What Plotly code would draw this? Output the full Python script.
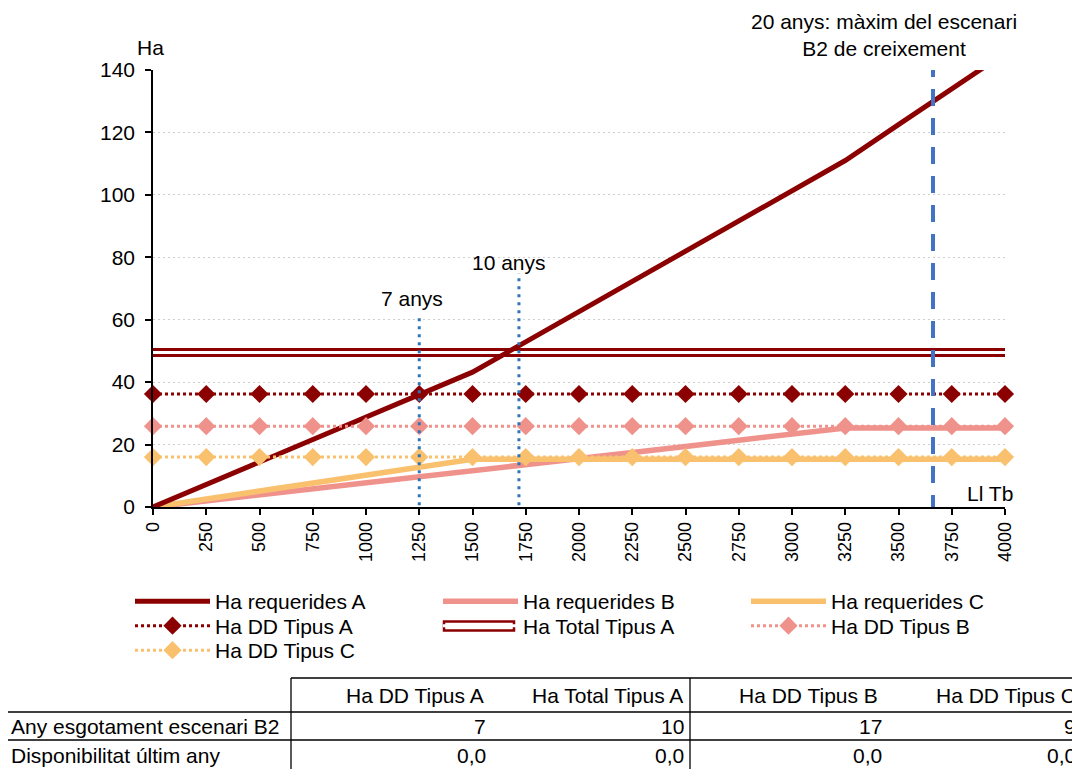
import plotly.graph_objects as go

# ---------------- data ----------------
x_vals = [0, 250, 500, 750, 1000, 1250, 1500, 1750, 2000, 2250, 2500, 2750, 3000, 3250, 3500, 3750, 4000]
x_ticks = [0, 250, 500, 750, 1000, 1250, 1500, 1750, 2000, 2250, 2500, 2750, 3000, 3250, 3500, 3750, 4000]
y_ticks = [0, 20, 40, 60, 80, 100, 120, 140]

req_A = [0, 7.2, 14.4, 21.6, 28.8, 36.0, 43.2, 52.9, 62.6, 72.3, 82.0, 91.7, 101.4, 111.0, 122.5, 134.0, 145.4]
req_B = [0, 1.9, 3.9, 5.8, 7.8, 9.7, 11.7, 13.6, 15.5, 17.5, 19.4, 21.4, 23.3, 25.3, 25.3, 25.3, 25.3]
req_C = [0, 2.6, 5.1, 7.7, 10.2, 12.8, 15.3, 15.3, 15.3, 15.3, 15.3, 15.3, 15.3, 15.3, 15.3, 15.3, 15.3]
dd_A = [36.2, 36.2, 36.2, 36.2, 36.2, 36.2, 36.2, 36.2, 36.2, 36.2, 36.2, 36.2, 36.2, 36.2, 36.2, 36.2, 36.2]
dd_B = [25.9, 25.9, 25.9, 25.9, 25.9, 25.9, 25.9, 25.9, 25.9, 25.9, 25.9, 25.9, 25.9, 25.9, 25.9, 25.9, 25.9]
dd_C = [16.0, 16.0, 16.0, 16.0, 16.0, 16.0, 16.0, 16.0, 16.0, 16.0, 16.0, 16.0, 16.0, 16.0, 16.0, 16.0, 16.0]
total_A = [49.5, 49.5, 49.5, 49.5, 49.5, 49.5, 49.5, 49.5, 49.5, 49.5, 49.5, 49.5, 49.5, 49.5, 49.5, 49.5, 49.5]

vline_x = [1250, 1718, 3662]
vline_bottom = [-2, -2, -1.6]
vline_top = [62, 75, 142.5]
vline_labels = ["7 anys", "10 anys", "20 anys: màxim del escenari<br>B2 de creixement"]

table_cols = ["Ha DD Tipus A", "Ha Total Tipus A", "Ha DD Tipus B", "Ha DD Tipus C"]
table_rows = ["Any esgotament escenari B2", "Disponibilitat últim any"]
table_any = ["7", "10", "17", "9"]
table_disp = ["0,0", "0,0", "0,0", "0,0"]

# ---------------- style ----------------
DARK = "#8B0000"
PINK = "#F0928C"
ORANGE = "#F9C16E"
BLUE_DOT = "#2E75B6"
BLUE_DASH = "#4472C4"
FONT = "Liberation Sans, Arial, sans-serif"
FS = 21

OFF = 8  # page body margin
L, T, W, H = 153, 70, 852, 437   # plot area in screen pixels
FIG_W, FIG_H = 1080 - OFF, 769 - OFF


def xp(px):
    return (px - L) / W


def yp(py):
    return (T + H - py) / H


def txt(x, y, s, xa="center", ya="middle", align="center"):
    fig.add_annotation(x=xp(x), y=yp(y), xref="paper", yref="paper", text=s,
                       xanchor=xa, yanchor=ya, align=align, showarrow=False,
                       font=dict(size=FS, color="black", family=FONT))


fig = go.Figure()

# Ha Total Tipus A (double line): dark outer line + white inner line
fig.add_trace(go.Scatter(x=x_vals, y=total_A, mode="lines", showlegend=False,
                         line=dict(color=DARK, width=9)))
fig.add_trace(go.Scatter(x=x_vals, y=total_A, mode="lines", name="Ha Total Tipus A",
                         line=dict(color="white", width=3), legend="legend2", legendrank=2))

fig.add_trace(go.Scatter(x=x_vals, y=req_B, mode="lines", name="Ha requerides B",
                         line=dict(color=PINK, width=5.5), legend="legend", legendrank=2))
fig.add_trace(go.Scatter(x=x_vals, y=req_C, mode="lines", name="Ha requerides C",
                         line=dict(color=ORANGE, width=5.5), legend="legend", legendrank=3))
fig.add_trace(go.Scatter(x=x_vals, y=req_A, mode="lines", name="Ha requerides A",
                         line=dict(color=DARK, width=5), legend="legend", legendrank=1))

for ys, col, nm, lg, rk in [(dd_A, DARK, "Ha DD Tipus A", "legend2", 1),
                            (dd_B, PINK, "Ha DD Tipus B", "legend2", 3),
                            (dd_C, ORANGE, "Ha DD Tipus C", "legend3", 1)]:
    fig.add_trace(go.Scatter(x=x_vals, y=ys, mode="lines+markers", name=nm,
                             line=dict(color=col, width=3, dash="dot"),
                             marker=dict(symbol="diamond", size=14, color=col),
                             cliponaxis=False, legend=lg, legendrank=rk))

# vertical reference lines
for i, (xv, y0, y1) in enumerate(zip(vline_x, vline_bottom, vline_top)):
    fig.add_shape(type="line", xref="x", yref="y", x0=xv, x1=xv, y0=y0, y1=y1,
                  line=dict(color=BLUE_DOT if i < 2 else BLUE_DASH, width=3 if i < 2 else 4,
                            dash="3px,5px" if i < 2 else "17px,12px"),
                  layer="above")

# labels for vertical lines
txt(412, 298, vline_labels[0])
txt(509, 262, vline_labels[1])
txt(884, 35, vline_labels[2])

# axis titles
txt(150, 47, "Ha")
txt(990, 493, "Ll Tb")

# outline behind the (white) legend symbol of "Ha Total Tipus A"
fig.add_shape(type="rect", xref="paper", yref="paper", x0=xp(444), x1=xp(514),
              y0=yp(630.5), y1=yp(621.5), line=dict(color=DARK, width=2.5), fillcolor="white",
              layer="above")

# ---------------- table ----------------
tl = dict(color="black", width=1.3)
for (x0, y0, x1, y1) in [(291, 678, 1080, 678), (5, 712, 1080, 712), (5, 740, 1080, 740),
                         (291, 678, 291, 770), (690, 678, 690, 770), (5, 712, 5, 770)]:
    fig.add_shape(type="line", xref="paper", yref="paper", x0=xp(x0), x1=xp(x1),
                  y0=yp(y0), y1=yp(y1), line=tl)

col_right = [486, 685, 880, 1078]
val_right = [488, 686, 884, 1078]
for cname, xr in zip(table_cols, col_right):
    txt(xr, 695, cname, xa="right")
for rname, yy in zip(table_rows, [726, 755]):
    txt(9, yy, rname, xa="left")
for vals, yy in [(table_any, 726), (table_disp, 755)]:
    for v, xr in zip(vals, val_right):
        txt(xr, yy, v, xa="right")

leg_common = dict(orientation="h", x=xp(130), xanchor="left", yanchor="top",
                  itemwidth=75, entrywidth=218, entrywidthmode="pixels",
                  font=dict(size=FS, family=FONT), tracegroupgap=0,
                  bgcolor="rgba(0,0,0,0)", traceorder="normal")

fig.update_layout(
    width=FIG_W, height=FIG_H,
    margin=dict(l=L - OFF, r=FIG_W - (L - OFF) - W, t=T - OFF, b=FIG_H - (T - OFF) - H,
                autoexpand=False),
    paper_bgcolor="white", plot_bgcolor="white",
    font=dict(family=FONT, size=FS, color="black"),
    showlegend=True,
    legend=dict(y=yp(581), **leg_common),
    legend2=dict(y=yp(605.5), **leg_common),
    legend3=dict(y=yp(630), **leg_common),
    xaxis=dict(range=[0, 4000], tickvals=x_ticks, ticktext=[str(t) for t in x_ticks],
               tickangle=-90, ticks="outside", ticklen=6, tickcolor="black", tickwidth=1.5,
               showline=True, linecolor="black", linewidth=1.5, showgrid=False, zeroline=False,
               tickfont=dict(size=18, family=FONT)),
    yaxis=dict(range=[0, 140], tickvals=y_ticks, ticks="outside", ticklen=6, tickcolor="black",
               tickwidth=1.5, showline=True, linecolor="black", linewidth=1.5,
               showgrid=True, gridcolor="#CFCFCF", griddash="2px,3px", gridwidth=1,
               zeroline=False, ticklabelstandoff=6, tickfont=dict(size=FS, family=FONT)),
)

fig.write_html("out.html")
